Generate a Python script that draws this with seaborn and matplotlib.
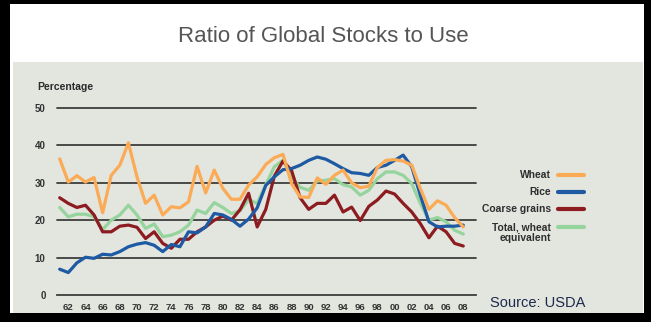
import numpy as np
import pandas as pd
import matplotlib
matplotlib.use("Agg")
import matplotlib.pyplot as plt
from matplotlib.patches import Rectangle
from matplotlib.lines import Line2D
import seaborn as sns

# Stocks-to-use ratios (percent), crop years 1961-2008
years = list(range(1961, 2009))
wheat = [36.4, 30.2, 31.9, 30.2, 31.4, 22.0, 32.0, 34.7, 40.7, 31.6,
         24.5, 26.7, 21.4, 23.6, 23.3, 24.9, 34.4, 27.3, 33.4, 28.5,
         25.6, 25.6, 29.4, 31.6, 34.9, 36.7, 37.6, 29.8, 26.2, 26.1,
         31.3, 29.6, 32.0, 33.4, 30.0, 28.7, 29.1, 34.1, 36.0, 36.2,
         35.8, 34.7, 28.5, 22.9, 25.2, 24.0, 20.7, 18.2]
rice = [6.9, 6.0, 8.6, 10.1, 9.8, 10.9, 10.7, 11.6, 12.9, 13.6,
        14.0, 13.3, 11.6, 13.5, 12.9, 16.9, 16.6, 18.2, 21.8, 21.4,
        20.2, 18.4, 20.3, 23.3, 29.3, 31.6, 33.5, 33.8, 34.7, 36.0,
        36.9, 36.3, 35.1, 33.8, 32.7, 32.5, 32.0, 34.1, 34.7, 36.0,
        37.4, 34.3, 26.7, 19.6, 18.2, 18.4, 18.4, 18.7]
coarse_grains = [26.0, 24.5, 23.4, 24.0, 21.4, 16.9, 16.9, 18.4, 18.7, 18.1,
                 15.1, 16.9, 13.8, 12.5, 14.9, 14.9, 16.9, 18.2, 20.0, 21.1,
                 20.0, 22.8, 27.2, 18.2, 22.9, 31.8, 35.8, 33.3, 26.0, 22.9,
                 24.5, 24.5, 26.7, 22.2, 23.5, 19.9, 23.7, 25.4, 27.8, 27.0,
                 24.5, 22.2, 19.1, 15.3, 18.4, 16.9, 13.8, 13.1]
total_wheat_eq = [23.4, 20.9, 21.6, 21.6, 20.9, 17.5, 20.0, 21.4, 24.0, 21.4,
                  17.8, 19.0, 15.6, 16.0, 16.9, 18.7, 22.7, 21.8, 24.7, 23.4,
                  21.8, 22.5, 25.5, 24.5, 29.5, 34.3, 36.0, 31.5, 28.8, 28.0,
                  30.5, 30.7, 31.1, 29.5, 28.9, 26.7, 28.0, 31.1, 32.9, 32.9,
                  32.0, 29.8, 24.5, 20.0, 20.7, 19.6, 17.3, 16.3]

series_names = ["Wheat", "Rice", "Coarse grains", "Total, wheat\nequivalent"]
series_values = [wheat, rice, coarse_grains, total_wheat_eq]
series_colors = ["#fbaa55", "#1d5aa3", "#8c1c1f", "#95d49c"]
y_ticks = [0, 10, 20, 30, 40, 50]
x_ticks = list(range(1962, 2009, 2))
x_tick_labels = [f"{y % 100:02d}" for y in x_ticks]

df = pd.DataFrame({
    "year": years * len(series_names),
    "value": sum(series_values, []),
    "series": np.repeat(series_names, len(years)),
})

sns.set_style("white")
plt.rcParams["font.family"] = ["Liberation Sans", "DejaVu Sans"]

W, H = 657, 334
fig = plt.figure(figsize=(W / 100, H / 100), dpi=100)
fig.patch.set_facecolor("white")


def box(x0, y0, x1, y1):
    """Pixel box (top-left origin) -> figure fraction rectangle args."""
    return (x0 / W, 1 - y1 / H), (x1 - x0) / W, (y1 - y0) / H


# Framed panel: black border, white title band, grey chart area
for (x0, y0, x1, y1), col, z in [((0, 0, 651, 322), "black", -30),
                                  ((10, 4, 644, 313), "white", -29),
                                  ((13, 62, 643, 313), "#e3e5df", -28)]:
    xy, w, h = box(x0, y0, x1, y1)
    fig.add_artist(Rectangle(xy, w, h, transform=fig.transFigure,
                             facecolor=col, edgecolor="none", zorder=z))

fig.text(323 / W, 1 - 37 / H, "Ratio of Global Stocks to Use",
         ha="center", va="center", fontsize=16, color="#555555")

ax_left, ax_right, ax_top, ax_bottom = 56.7, 475.7, 108, 295
ax = fig.add_axes([ax_left / W, 1 - ax_bottom / H,
                   (ax_right - ax_left) / W, (ax_bottom - ax_top) / H])
ax.set_facecolor("none")

# draw green first so the other series sit on top
draw_order = [3, 2, 1, 0]
sns.lineplot(data=df, x="year", y="value", hue="series",
             hue_order=[series_names[i] for i in draw_order],
             palette=[series_colors[i] for i in draw_order],
             linewidth=2.3, legend=False, ax=ax, zorder=3)

ax.set_xlim(1960.65, 2009.45)
ax.set_ylim(0, 50)
ax.set_xlabel("")
ax.set_ylabel("")

for v in y_ticks[1:]:
    ax.axhline(v, color="#3d3d3d", linewidth=1.3, zorder=1, clip_on=False)

for s in ["top", "right", "left"]:
    ax.spines[s].set_visible(False)
ax.spines["bottom"].set_color("#3d3d3d")
ax.spines["bottom"].set_linewidth(1.3)

ax.set_yticks(y_ticks)
ax.set_yticklabels([str(v) for v in y_ticks], fontweight="bold")
ax.tick_params(axis="y", length=0, pad=8, labelsize=7, labelcolor="#333333")
ax.set_xticks(x_ticks)
ax.set_xticklabels(x_tick_labels, fontweight="bold")
ax.tick_params(axis="x", direction="out", length=3.5, width=1.0,
               color="#3d3d3d", pad=2.5, labelsize=6.8, labelcolor="#333333")

fig.text(37 / W, 1 - 87 / H, "Percentage", ha="left", va="center",
         fontsize=7.5, color="#2a2a2a", fontweight="bold")

# Legend: labels right-aligned, line swatch to the right
legend_y = [175, 192, 209, 227]
for name, col, yy in zip(series_names, series_colors, legend_y):
    lines = name.split("\n")
    fig.text(551 / W, 1 - yy / H, lines[0], ha="right", va="center",
             fontsize=7.4, color="#2e2e2e", fontweight="bold")
    if len(lines) > 1:
        fig.text(551 / W, 1 - (yy + 11) / H, lines[1], ha="right",
                 va="center", fontsize=7.4, color="#2e2e2e",
                 fontweight="bold")
    fig.add_artist(Line2D([558 / W, 584 / W], [1 - yy / H, 1 - yy / H],
                          transform=fig.transFigure, color=col,
                          linewidth=3, solid_capstyle="round"))

fig.text(490 / W, 1 - 303 / H, "Source: USDA", ha="left", va="center",
         fontsize=10.5, color="#1c2a4a")

fig.savefig("out.png", dpi=100)
